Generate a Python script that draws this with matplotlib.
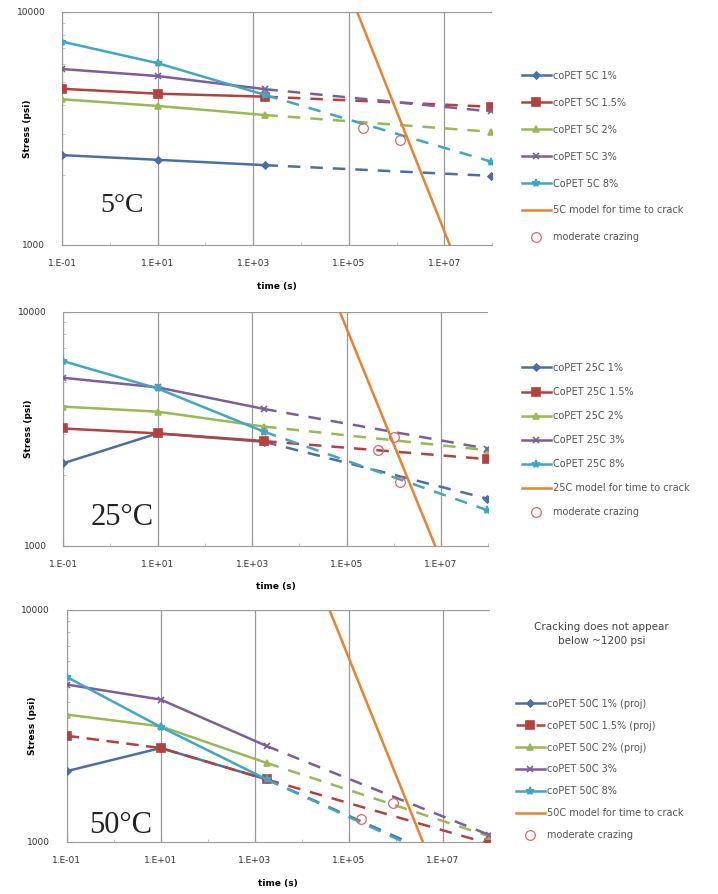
import matplotlib
matplotlib.use("Agg")
import matplotlib.pyplot as plt
from matplotlib.ticker import FixedLocator, LogLocator, NullFormatter, FuncFormatter

# ---------------- data ----------------
t_meas = [0.1, 10, 1800]
t_ext = [1800, 9.46e7]

labels_5 = ["coPET 5C 1%", "coPET 5C 1.5%", "coPET 5C 2%", "coPET 5C 3%", "CoPET 5C 8%"]
meas_5 = [[2430, 2320, 2200],
          [4680, 4460, 4330],
          [4220, 3950, 3610],
          [5690, 5310, 4660],
          [7460, 6030, 4400]]
end_5 = [1980, 3920, 3060, 3740, 2280]
model_5_t = [1.5e5, 1.3e7]
model_5_s = [10000, 1000]
craze_5_t = [2.0e5, 1.2e6]
craze_5_s = [3170, 2820]

labels_25 = ["coPET 25C 1%", "CoPET 25C 1.5%", "coPET 25C 2%", "CoPET 25C 3%", "CoPET 25C 8%"]
meas_25 = [[2250, 3020, 2780],
           [3170, 3020, 2800],
           [3930, 3740, 3230],
           [5220, 4750, 3840],
           [6150, 4700, 3070]]
end_25 = [1590, 2345, 2560, 2600, 1420]
model_25_t = [7.2e4, 7.5e6]
model_25_s = [10000, 1000]
craze_25_t = [1.0e6, 4.7e5, 1.35e6]
craze_25_s = [2920, 2560, 1880]

labels_50 = ["coPET 50C 1% (proj)", "coPET 50C 1.5% (proj)", "coPET 50C 2% (proj)",
             "coPET 50C 3%", "coPET 50C 8%"]
meas_50 = [[2020, 2540, 1860],
           [2870, 2540, 1860],
           [3540, 3150, 2190],
           [4770, 4110, 2590],
           [5140, 3130, 1860]]
end_50 = [700, 985, 1060, 1075, 680]
model_50_t = [3.9e4, 3.8e6]
model_50_s = [10000, 1000]
craze_50_t = [1.8e5, 8.7e5]
craze_50_s = [1250, 1470]

model_labels = ["5C model for time to crack", "25C model for time to crack",
                "50C model for time to crack"]
temps = ["5\u00b0C", "25\u00b0C", "50\u00b0C"]
xtick_vals = [1e-1, 1e1, 1e3, 1e5, 1e7]
xtick_labels = ["1.E-01", "1.E+01", "1.E+03", "1.E+05", "1.E+07"]
note_50 = "Cracking does not appear\nbelow ~1200 psi"

# ---------------- style ----------------
colors = ["#4A6FA5", "#B5413E", "#98B954", "#7A5E9E", "#3FA7C2"]
markers = ["D", "s", "^", "x", "*"]
msizes = [3.5, 6, 5, 5, 6]
orange = "#E8822E"

fig = plt.figure(figsize=(7.18, 8.94), dpi=100)
W, H = 718.0, 894.0
positions = [[0.0864, 0.726, 0.599, 0.2606],
             [0.088, 0.3896, 0.592, 0.2617],
             [0.093, 0.0582, 0.589, 0.2595]]

panels = [
    (labels_5, meas_5, end_5, model_5_t, model_5_s, craze_5_t, craze_5_s, [False]*5),
    (labels_25, meas_25, end_25, model_25_t, model_25_s, craze_25_t, craze_25_s, [False]*5),
    (labels_50, meas_50, end_50, model_50_t, model_50_s, craze_50_t, craze_50_s,
     [False, True, False, False, False]),
]
legend_anchor_px = [(518, 67), (518, 359), (512, 695)]
legend_spacing = [1.74, 1.45, 1.22]
temp_pos = [(0.088, 0.115, 20), (0.064, 0.058, 22), (0.054, 0.008, 22)]

for i, (labs, meas, ends, mt, ms, ct, cs, dashed_meas) in enumerate(panels):
    ax = fig.add_axes(positions[i])
    ax.set_xscale("log")
    ax.set_yscale("log")
    ax.set_xlim(0.1, 1e8)
    ax.set_ylim(1000, 10000)
    handles = []
    for k in range(5):
        ls = (0, (5, 3)) if dashed_meas[k] else "-"
        h, = ax.plot(t_meas, meas[k], color=colors[k], lw=1.8, ls=ls,
                     marker=markers[k], ms=msizes[k], mew=1.2, label=labs[k], zorder=3)
        ax.plot(t_ext, [meas[k][-1], ends[k]], color=colors[k], lw=1.8,
                ls=(0, (5, 4)), marker=markers[k], ms=msizes[k], mew=1.2,
                markevery=[1], zorder=3)
        handles.append(h)
    hm, = ax.plot(mt, ms, color=orange, lw=1.8, label=model_labels[i], zorder=4)
    hc, = ax.plot(ct, cs, ls="none", marker="o", mfc="none", mec="#E06666",
                  ms=7, mew=0.9, label="moderate crazing", zorder=5)
    handles += [hm, hc]

    ax.xaxis.set_major_locator(FixedLocator(xtick_vals))
    ax.xaxis.set_minor_locator(LogLocator(base=10, subs=(1.0,), numticks=20))
    ax.xaxis.set_major_formatter(FuncFormatter(
        lambda v, p: xtick_labels[xtick_vals.index(min(xtick_vals, key=lambda q: abs(q - v)))]))
    ax.xaxis.set_minor_formatter(NullFormatter())
    ax.yaxis.set_major_locator(FixedLocator([1000, 10000]))
    ax.yaxis.set_minor_locator(LogLocator(base=10, subs=(2, 3, 4, 5, 6, 7, 8, 9), numticks=10))
    ax.yaxis.set_major_formatter(FuncFormatter(lambda v, p: "%d" % v))
    ax.yaxis.set_minor_formatter(NullFormatter())
    ax.grid(True, which="major", axis="x", color="#999999", lw=0.9)
    ax.axhline(10000, color="#999999", lw=0.9)
    for s in ["top", "right"]:
        ax.spines[s].set_visible(False)
    for s in ["left", "bottom"]:
        ax.spines[s].set_color("#999999")
    ax.tick_params(axis="both", which="major", labelsize=6.5, colors="#999999",
                   labelcolor="#333333", length=4, direction="in")
    ax.tick_params(axis="x", which="major", pad=10)
    ax.tick_params(axis="y", which="major", pad=12)
    ax.tick_params(axis="both", which="minor", colors="#bbbbbb", length=2.5, direction="in")
    ax.set_xlabel("time (s)", fontsize=6.5, fontweight="bold", labelpad=10)
    ax.set_ylabel("Stress (psi)", fontsize=6.5, fontweight="bold")
    ax.yaxis.set_label_coords(-0.07, 0.5)
    tx, ty, tfs = temp_pos[i]
    ax.text(tx, ty, temps[i], transform=ax.transAxes, fontsize=tfs, va="bottom",
            family="Liberation Serif", color="#222222")
    ax_x, ax_y = legend_anchor_px[i]
    leg = ax.legend(handles=handles, loc="upper left",
                    bbox_to_anchor=(ax_x / W, 1 - ax_y / H), bbox_transform=fig.transFigure,
                    frameon=False, fontsize=7, labelspacing=legend_spacing[i],
                    handlelength=3.0, borderaxespad=0, handletextpad=0.25)
    for t in leg.get_texts():
        t.set_color("#555555")

fig.axes[2].text(1.265, 0.897, note_50, transform=fig.axes[2].transAxes, fontsize=7.5,
                 ha="center", va="center", color="#444444", linespacing=1.5)

fig.savefig("out.png", dpi=100)
